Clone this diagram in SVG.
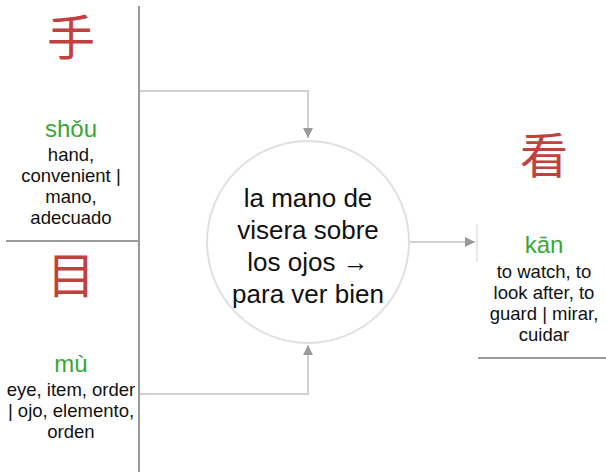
<svg xmlns="http://www.w3.org/2000/svg" width="606" height="472" viewBox="0 0 606 472">
<defs>
<style>
.hz{font-family:"Noto Sans CJK SC","Noto Sans CJK TC",sans-serif;font-size:48px;fill:#c0413e;text-anchor:middle}
.py{font-family:"Liberation Sans",Arial,sans-serif;font-size:24px;fill:#3aa635;text-anchor:middle}
.df{font-family:"Liberation Sans",Arial,sans-serif;font-size:18.5px;fill:#111;text-anchor:middle}
.ct{font-family:"Liberation Sans",Arial,sans-serif;font-size:26px;fill:#111;text-anchor:middle}
.sep{stroke:#999;stroke-width:2;fill:none}
.con{stroke:#d0d0d0;stroke-width:2;fill:none}
</style>
<marker id="ah" markerWidth="10" markerHeight="10" refX="10" refY="5" orient="auto" markerUnits="userSpaceOnUse">
<path d="M0,0 L10,5 L0,10 z" fill="#9a9a9a"/>
</marker>
</defs>
<rect width="606" height="472" fill="#fff"/>
<g id="connectors">
<path class="con" d="M139,91 H308 V138" marker-end="url(#ah)"/>
<path class="con" d="M139,394 H308 V345" marker-end="url(#ah)"/>
<path class="con" d="M410,242 H475" marker-end="url(#ah)"/>
</g>
<g id="node-shou">
<text class="hz" x="71" y="55">手</text>
<text class="py" x="71" y="137">shǒu</text>
<text class="df" x="71" y="161">hand,</text>
<text class="df" x="71" y="182">convenient |</text>
<text class="df" x="71" y="203">mano,</text>
<text class="df" x="71" y="224">adecuado</text>
</g>
<g id="node-mu">
<text class="hz" x="71" y="293">目</text>
<text class="py" x="71" y="372">mù</text>
<text class="df" x="71" y="396">eye, item, order</text>
<text class="df" x="71" y="417">| ojo, elemento,</text>
<text class="df" x="71" y="438">orden</text>
</g>
<g id="node-center">
<circle cx="308" cy="242" r="101" fill="#fff" stroke="#e0e0e0" stroke-width="2"/>
<text class="ct" x="308" y="207">la mano de</text>
<text class="ct" x="308" y="239">visera sobre</text>
<text class="ct" x="308" y="271">los ojos →</text>
<text class="ct" x="308" y="303">para ver bien</text>
</g>
<g id="node-kan">
<line x1="477" y1="224" x2="477" y2="262" stroke="#e8e8e8" stroke-width="2"/>
<text class="hz" x="544" y="173">看</text>
<text class="py" x="544" y="253">kān</text>
<text class="df" x="544" y="278">to watch, to</text>
<text class="df" x="544" y="299">look after, to</text>
<text class="df" x="544" y="320">guard | mirar,</text>
<text class="df" x="544" y="341">cuidar</text>
<line class="sep" x1="478" y1="358" x2="606" y2="358"/>
</g>
<g id="frame">
<line class="sep" x1="139" y1="6" x2="139" y2="472"/>
<line class="sep" x1="6" y1="241" x2="139" y2="241"/>
</g>
</svg>
